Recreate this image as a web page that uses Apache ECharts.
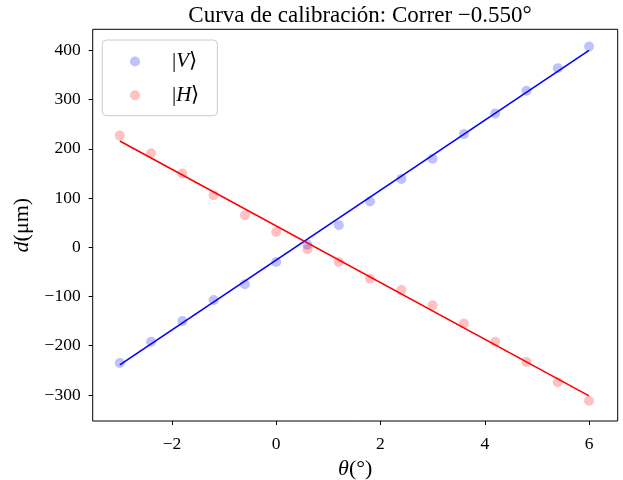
<!DOCTYPE html>
<html>
<head>
<meta charset="utf-8">
<script src="https://cdn.jsdelivr.net/npm/echarts@6/dist/echarts.min.js"></script>
<style>
html,body{margin:0;padding:0;background:#fff;}
#chart{width:623px;height:480px;}
</style>
</head>
<body>
<div id="chart"></div>
<script>
// ---- data ----
const titleText = 'Curva de calibración: Correr −0.550°';
const seriesNames = ['|V⟩', '|H⟩'];
const thetaValues = [-3, -2.4, -1.8, -1.2, -0.6, 0, 0.6, 1.2, 1.8, 2.4, 3.0, 3.6, 4.2, 4.8, 5.4, 6.0];
const vValues = [-235, -192, -150, -107, -75, -30, 5, 45, 93, 139, 180, 230, 272, 318, 364, 408];
const hValues = [227, 191, 150, 106, 65, 31, -4, -30, -64, -87, -118, -155, -192, -233, -274, -312];
const vFitX = [-3, 6];
const vFitY = [-239, 400];
const hFitX = [-3, 6];
const hFitY = [216, -302];
const xTicks = [-2, 0, 2, 4, 6];
const yTicks = [-300, -200, -100, 0, 100, 200, 300, 400];

const FONT = 'Liberation Serif';
const fmt = v => (v < 0 ? '−' + Math.abs(v) : String(v));
const pairs = (xs, ys) => xs.map((x, i) => [x, ys[i]]);

const chart = echarts.init(document.getElementById('chart'), null, {renderer: 'canvas'});
chart.setOption({
  animation: false,
  backgroundColor: '#fff',
  title: {
    text: titleText,
    left: 355, top: -1, textAlign: 'center',
    textStyle: {fontFamily: FONT, fontSize: 23, fontWeight: 'normal', color: '#000'}
  },
  grid: {
    left: 92.7, right: 5.3, top: 29.3, bottom: 59,
    outerBoundsMode: 'none', containLabel: false,
    show: true, borderColor: '#000', borderWidth: 1, backgroundColor: 'transparent'
  },
  legend: {
    left: 102.3, top: 40,
    orient: 'vertical',
    data: seriesNames,
    icon: 'circle',
    itemWidth: 10, itemHeight: 10, itemGap: 12.7,
    padding: [11, 18, 10, 27.7],
    backgroundColor: 'rgba(255,255,255,0.8)',
    borderColor: '#cccccc', borderWidth: 1, borderRadius: 4,
    formatter: name => name.replace(/([A-Z])/, '{i|$1}'),
    textStyle: {
      fontFamily: FONT, fontSize: 21, color: '#000', lineHeight: 20, padding: [0, 0, 0, 27],
      rich: {i: {fontFamily: FONT, fontSize: 21, fontStyle: 'italic', color: '#000', lineHeight: 20}}
    }
  },
  xAxis: {
    type: 'value', min: -3.52, max: 6.55,
    name: '{i|θ}(°)', nameLocation: 'middle', nameGap: 36,
    nameTextStyle: {
      fontFamily: FONT, fontSize: 22, color: '#000',
      rich: {i: {fontFamily: FONT, fontSize: 22, fontStyle: 'italic', color: '#000'}}
    },
    axisLine: {show: false, onZero: false},
    axisTick: {show: true, inside: false, length: 4, customValues: xTicks, lineStyle: {color: '#000', width: 1}},
    axisLabel: {customValues: xTicks, formatter: fmt, margin: 14, fontFamily: FONT, fontSize: 17.5, color: '#000'},
    splitLine: {show: false}
  },
  yAxis: {
    type: 'value', min: -353, max: 443,
    name: '{i|d}(μm)', nameLocation: 'middle', nameGap: 58,
    nameTextStyle: {
      fontFamily: FONT, fontSize: 22, color: '#000',
      rich: {i: {fontFamily: FONT, fontSize: 22, fontStyle: 'italic', color: '#000'}}
    },
    axisLine: {show: false, onZero: false},
    axisTick: {show: true, inside: false, length: 4, customValues: yTicks, lineStyle: {color: '#000', width: 1}},
    axisLabel: {customValues: yTicks, formatter: fmt, margin: 12, fontFamily: FONT, fontSize: 17.5, color: '#000'},
    splitLine: {show: false}
  },
  series: [
    {
      name: seriesNames[0], type: 'scatter', symbol: 'circle', symbolSize: 10,
      itemStyle: {color: 'rgba(0,0,255,0.3)'},
      data: pairs(thetaValues, vValues), z: 2
    },
    {
      name: seriesNames[1], type: 'scatter', symbol: 'circle', symbolSize: 10,
      itemStyle: {color: 'rgba(255,0,0,0.3)'},
      data: pairs(thetaValues, hValues), z: 2
    },
    {
      name: 'fitV', type: 'line', showSymbol: false, symbol: 'none',
      lineStyle: {color: '#0000ff', width: 1.6}, itemStyle: {color: '#0000ff'},
      data: pairs(vFitX, vFitY), z: 3
    },
    {
      name: 'fitH', type: 'line', showSymbol: false, symbol: 'none',
      lineStyle: {color: '#ff0000', width: 1.6}, itemStyle: {color: '#ff0000'},
      data: pairs(hFitX, hFitY), z: 3
    }
  ]
});
</script>
</body>
</html>
